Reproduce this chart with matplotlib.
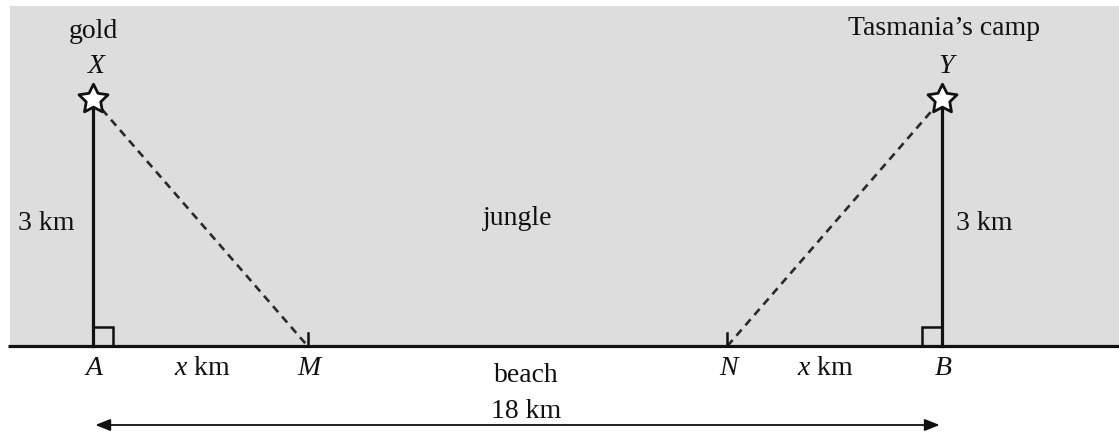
import matplotlib.pyplot as plt
from matplotlib.patches import Rectangle, FancyArrowPatch
from matplotlib.path import Path

plt.rcParams['font.family'] = ['Liberation Serif', 'DejaVu Serif']
plt.rcParams['mathtext.fontset'] = 'custom'
plt.rcParams['mathtext.it'] = 'Liberation Serif:italic'
plt.rcParams['mathtext.rm'] = 'Liberation Serif'

# diagram values (km)
beach_length = 18
height = 3
x_dist = 4.55
point_names = ['A', 'M', 'N', 'B']
point_pos = [0, x_dist, beach_length - x_dist, beach_length]
top_names = ['X', 'Y']
top_pos = [0, beach_length]
top_titles = ['gold', "Tasmania\u2019s camp"]

# pixel scale of the picture (not to scale vertically)
sx = 849 / beach_length
sy = 247 / height

fig = plt.figure(figsize=(11.19, 4.32), dpi=100)
ax = fig.add_axes([0, 0, 1, 1])
ax.set_xlim(-93 / sx, (1119 - 93) / sx)
ax.set_ylim(-(432 - 346) / sy, 346 / sy)
ax.axis('off')

ink = '#111111'
fs = 20

# jungle area
x0, x1 = ax.get_xlim()
ax.add_patch(Rectangle((-83 / sx, 0), x1 + 83 / sx, 340 / sy,
                       facecolor='#dddddd', edgecolor='none', zorder=0))

# beach line
ax.plot([-85 / sx, x1], [0, 0], color=ink, lw=2.3, zorder=3,
        solid_capstyle='butt')

# vertical sides
for xp in top_pos:
    ax.plot([xp, xp], [0, height], color=ink, lw=2.3, zorder=3)

# right-angle marks
sq_w = 20 / sx
sq_h = 19 / sy
ax.add_patch(Rectangle((top_pos[0], 0), sq_w, sq_h, fill=False,
                       edgecolor=ink, lw=1.8, zorder=3))
ax.add_patch(Rectangle((top_pos[1] - sq_w, 0), sq_w, sq_h, fill=False,
                       edgecolor=ink, lw=1.8, zorder=3))

# dashed paths
ax.plot([top_pos[0], point_pos[1]], [height, 0], color='#2a2a2a', lw=1.9,
        dashes=(3.0, 2.2), zorder=2)
ax.plot([point_pos[2], top_pos[1]], [0, height], color='#2a2a2a', lw=1.9,
        dashes=(3.0, 2.2), zorder=2)

# ticks at M and N
for xp in point_pos[1:3]:
    ax.plot([xp, xp], [0, 13 / sy], color=ink, lw=1.8, zorder=3)

# stars
star = Path.unit_regular_star(5, 0.5)
ax.plot(top_pos, [height] * 2, linestyle='none', marker=star,
        markersize=22, markerfacecolor='white', markeredgecolor=ink,
        markeredgewidth=2.0, zorder=5)

# labels
for name, xp in zip(top_names, top_pos):
    ax.text(xp + 0.08, height + 0.31, name, fontsize=fs, style='italic',
            ha='center', va='baseline', color=ink)
ax.text(top_pos[0], height + 0.74, top_titles[0], fontsize=fs,
        ha='center', va='baseline', color=ink)
ax.text(top_pos[1] + 0.04, height + 0.78, top_titles[1], fontsize=fs,
        ha='center', va='baseline', color=ink)

ax.text(-1.0, 1.41, '3 km', fontsize=fs, ha='center', va='baseline', color=ink)
ax.text(beach_length + 0.89, 1.41, '3 km', fontsize=fs, ha='center',
        va='baseline', color=ink)
ax.text(beach_length / 2, 1.47, 'jungle', fontsize=fs, ha='center',
        va='baseline', color=ink)

for name, xp in zip(point_names, point_pos):
    ax.text(xp + 0.03, -0.35, name, fontsize=fs, style='italic',
            ha='center', va='baseline', color=ink)
ax.text(x_dist / 2 + 0.05, -0.35, '$x$ km', fontsize=fs, ha='center',
        va='baseline', color=ink)
ax.text(beach_length - x_dist / 2 - 0.2, -0.35, '$x$ km', fontsize=fs,
        ha='center', va='baseline', color=ink)
ax.text(beach_length / 2 + 0.18, -0.44, 'beach', fontsize=fs, ha='center',
        va='baseline', color=ink)
ax.text(beach_length / 2 + 0.18, -0.875, f'{beach_length} km', fontsize=fs,
        ha='center', va='baseline', color=ink)

# 18 km arrow
arrow_y = -(425 - 346) / sy
ax.add_patch(FancyArrowPatch((0.05, arrow_y), (beach_length - 0.05, arrow_y),
                             arrowstyle='<|-|>,head_length=0.45,head_width=0.18',
                             mutation_scale=20, shrinkA=0, shrinkB=0,
                             color=ink, lw=1.3, zorder=3))

fig.savefig('out.png', dpi=100, facecolor='white')
